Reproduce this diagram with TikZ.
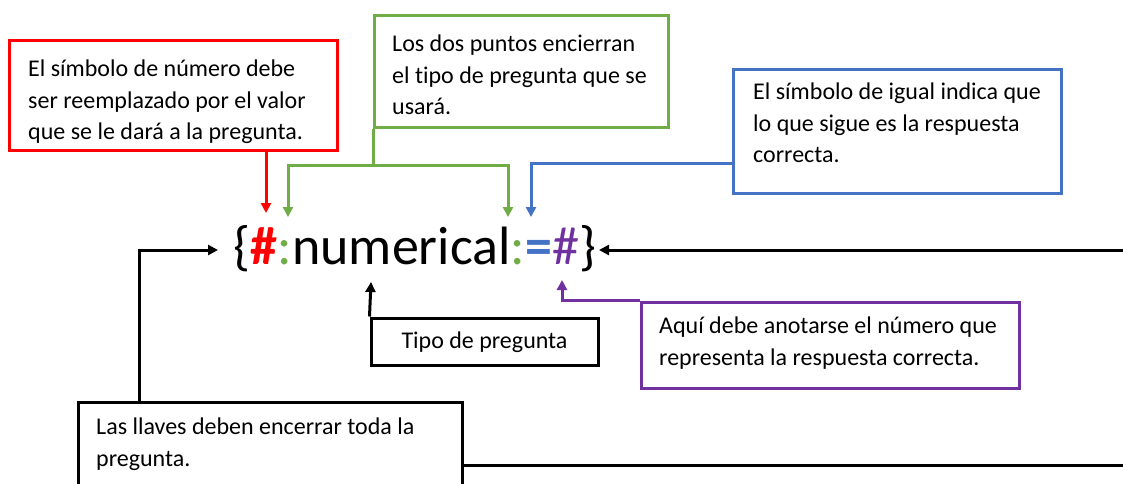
\documentclass[tikz,border=0pt]{standalone}
\usepackage{fontspec}
\setmainfont{Carlito}[RawFeature=-liga]
\usetikzlibrary{arrows.meta}
\definecolor{cred}{RGB}{255,0,0}
\definecolor{cgreen}{RGB}{112,173,71}
\definecolor{cblue}{RGB}{68,114,196}
\definecolor{cpurple}{RGB}{112,48,160}
\begin{document}
\begin{tikzpicture}[x=1pt,y=-1pt,
  box/.style={draw=#1, line width=3pt, inner sep=0pt, fill=white},
  txt/.style={anchor=west, align=left, inner sep=0pt, text=black, font=\fontsize{24}{31.5}\selectfont},
  conn/.style={line width=3pt, -{Triangle[length=10pt,width=10pt]}},
  plain/.style={line width=3pt}]
\useasboundingbox (0,0) rectangle (1123,483);
\fill[white] (0,0) rectangle (1123,483);

% boxes
\node[box=cred, minimum width=328pt, minimum height=110pt] (r) at (173,95) {};
\node[txt] (rt) at (28,102) {El símbolo de número debe\\ser reemplazado por el valor\\que se le dará a la pregunta.};

\node[box=cgreen, minimum width=294pt, minimum height=112pt] (g) at (521,71) {};
\node[txt] (gt) at (392,75) {Los dos puntos encierran\\el tipo de pregunta que se\\usará.};

\node[box=cblue, minimum width=328pt, minimum height=124pt] (b) at (897,131) {};
\node[txt] (bt) at (753,123) {El símbolo de igual indica que\\lo que sigue es la respuesta\\correcta.};

\node[box=black, minimum width=227pt, minimum height=47pt] (t) at (484.5,341.5) {};
\node[txt, anchor=center] (tt) at (484.5,342) {Tipo de pregunta};

\node[box=cpurple, minimum width=378pt, minimum height=86pt] (p) at (830,345) {};
\node[txt] (pt) at (659,343) {Aquí debe anotarse el número que\\representa la respuesta correcta.};

\node[box=black, minimum width=384pt, minimum height=98pt] (k) at (270,451) {};
\node[txt] (kt) at (96,444) {Las llaves deben encerrar toda la\\pregunta.};

% main expression
\node[anchor=base, inner sep=0pt, font=\fontsize{54}{54}\selectfont] (m) at (415,264)
  {\{\textcolor{cred}{\textbf{\#}}\textcolor{cgreen}{:}numerical\textcolor{cgreen}{:}\textcolor{cblue}{\textbf{=}}\textcolor{cpurple}{\#}\}};

% targets and joints
\coordinate (tR) at (266,213);
\coordinate (gJ) at (373,165);
\coordinate (tG1) at (288,217);
\coordinate (tG2) at (508,217);
\coordinate (bJ) at (733,163);
\coordinate (tB) at (531,217);
\coordinate (tP) at (562,280);
\coordinate (tT) at (371,282);
\coordinate (kJ) at (139,402);
\coordinate (tL) at (218,250);
\coordinate (rR) at (1135,250);
\coordinate (tRB) at (599,250);
\coordinate (rB) at (1135,465);

% connectors
\draw[conn, cred] (r.south -| tR) -- (tR);
\draw[plain, cgreen] (g.south -| gJ) -- (gJ);
\draw[conn, cgreen] (gJ) -| (tG1);
\draw[conn, cgreen] (gJ) -| (tG2);
\draw[conn, cblue] (bJ) -| (tB);
\draw[conn, cpurple] (p.north west) -| (tP);
\draw[conn] (t.north west) -- (tT);
\draw[conn] (kJ) |- (tL);
\draw[conn] (rR) -- (tRB);
\draw[plain] (k.east |- rB) -- (rB);
\end{tikzpicture}
\end{document}
